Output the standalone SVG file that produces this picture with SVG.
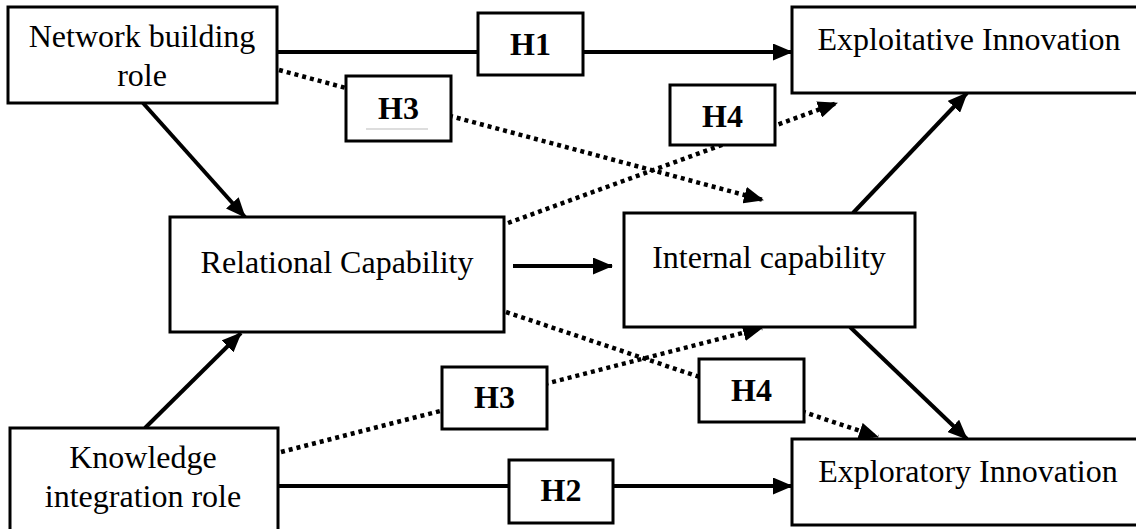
<svg xmlns="http://www.w3.org/2000/svg" width="1136" height="529" viewBox="0 0 1136 529">
<style>
.box{fill:#fff;stroke:#000;stroke-width:3}
.t{font-family:"Liberation Serif","Times New Roman",serif;font-size:32px;fill:#000;text-anchor:middle}
.h{font-family:"Liberation Serif","Times New Roman",serif;font-size:32px;font-weight:bold;fill:#000;text-anchor:middle}
.s{stroke:#000;stroke-width:4;fill:none}
.d{stroke:#000;stroke-width:4.5;fill:none;stroke-dasharray:4 4}
</style>
<defs>
<marker id="ah" markerUnits="userSpaceOnUse" markerWidth="20" markerHeight="17" refX="19" refY="8.5" orient="auto" viewBox="0 0 20 17">
<path d="M0,0 L20,8.5 L0,17 Z" fill="#000" stroke="none"/>
</marker>
</defs>
<rect width="1136" height="529" fill="#fff"/>
<g id="connectors">
<path class="s" d="M277,52 L792,52" marker-end="url(#ah)"/>
<path class="s" d="M278,486 L792,486" marker-end="url(#ah)"/>
<path class="s" d="M143,103 L245,217" marker-end="url(#ah)"/>
<path class="s" d="M145,428 L241,333" marker-end="url(#ah)"/>
<path class="s" d="M513,266 L612,266" marker-end="url(#ah)"/>
<path class="s" d="M853,213 L967,93" marker-end="url(#ah)"/>
<path class="s" d="M850,327 L967,439" marker-end="url(#ah)"/>
<path class="d" d="M279,70 L763,200" marker-end="url(#ah)"/>
<path class="d" d="M508,223 L837,103" marker-end="url(#ah)"/>
<path class="d" d="M281,452 L762,328" marker-end="url(#ah)"/>
<path class="d" d="M506,312 L878,437" marker-end="url(#ah)"/>
</g>
<g id="network-building">
<rect class="box" x="8" y="7" width="269" height="96"/>
<text class="t" x="142" y="47">Network building</text>
<text class="t" x="142" y="86">role</text>
</g>
<g id="exploitative">
<rect class="box" x="792" y="7" width="354" height="86"/>
<text class="t" x="969" y="50">Exploitative Innovation</text>
</g>
<g id="relational">
<rect class="box" x="170" y="217" width="334" height="115"/>
<text class="t" x="337" y="273">Relational Capability</text>
</g>
<g id="internal">
<rect class="box" x="624" y="213" width="291" height="114"/>
<text class="t" x="769" y="268">Internal capability</text>
</g>
<g id="knowledge-integration">
<rect class="box" x="10" y="428" width="268" height="110"/>
<text class="t" x="143" y="468">Knowledge</text>
<text class="t" x="143" y="507">integration role</text>
</g>
<g id="exploratory">
<rect class="box" x="792" y="439" width="354" height="86"/>
<text class="t" x="968" y="482">Exploratory Innovation</text>
</g>
<g id="h1">
<rect class="box" x="478" y="13" width="105" height="62"/>
<text class="h" x="530.5" y="55">H1</text>
</g>
<g id="h3-top">
<rect class="box" x="346" y="76" width="105" height="65"/>
<text class="h" x="398.5" y="119">H3</text>
<line x1="366" y1="129" x2="428" y2="129" stroke="#bbb" stroke-width="1"/>
</g>
<g id="h4-top">
<rect class="box" x="670" y="85" width="105" height="60"/>
<text class="h" x="722.5" y="127">H4</text>
</g>
<g id="h3-bottom">
<rect class="box" x="442" y="367" width="105" height="62"/>
<text class="h" x="494.5" y="408">H3</text>
</g>
<g id="h4-bottom">
<rect class="box" x="699" y="359" width="105" height="63"/>
<text class="h" x="751.5" y="401">H4</text>
</g>
<g id="h2">
<rect class="box" x="509" y="460" width="104" height="63"/>
<text class="h" x="561" y="501">H2</text>
</g>
</svg>
